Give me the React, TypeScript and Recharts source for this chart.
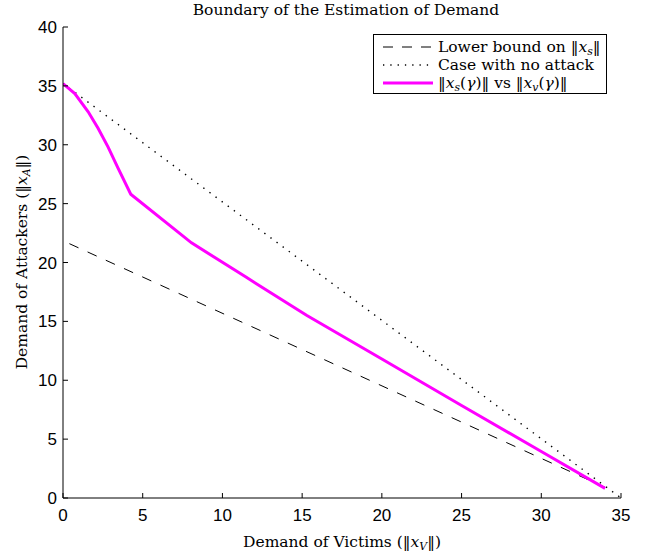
import { LineChart, Line, XAxis, YAxis } from "recharts";

const xTicks = [0, 5, 10, 15, 20, 25, 30, 35];
const yTicks = [0, 5, 10, 15, 20, 25, 30, 35, 40];

// lower bound on ||x_s|| (dashed)
const boundX = [0.4, 34];
const boundY = [21.6, 0.9];

// case with no attack (dotted)
const noAttackX = [0, 35];
const noAttackY = [35.2, 0];

// ||x_s(gamma)|| vs ||x_v(gamma)||
const curveX = [0, 0.74, 1.58, 2.2, 2.83, 3.46, 4.25, 8.06, 11.5, 15.3, 20, 25, 30, 34];
const curveY = [35.2, 34.35, 32.8, 31.4, 29.8, 28.0, 25.8, 21.67, 18.74, 15.5, 11.8, 7.85, 3.95, 0.82];

const zip = (xs: number[], ys: number[]) => xs.map((x, i) => ({ x, y: ys[i] }));

const serif = "'DejaVu Serif', serif";
const sans = "'Liberation Sans', Arial, sans-serif";
const textSize = 15.5;

const Norm = ({ v, sub, arg }: { v: string; sub: string; arg?: boolean }) => (
  <span>
    ‖<i>{v}</i>
    <i style={{ fontSize: "0.7em", position: "relative", top: "0.3em", lineHeight: 0 }}>{sub}</i>
    {arg ? (
      <>
        (<i>γ</i>)
      </>
    ) : null}
    ‖
  </span>
);

function LegendBox() {
  const row = { display: "flex", alignItems: "center", height: 18 } as const;
  return (
    <div
      style={{
        position: "absolute",
        left: 373,
        top: 34,
        width: 234,
        height: 60,
        boxSizing: "border-box",
        border: "1px solid #000",
        background: "#fff",
        padding: "3px 0 0 9px",
        fontFamily: serif,
        fontSize: textSize,
        lineHeight: "18px",
        color: "#000",
        whiteSpace: "nowrap",
      }}
    >
      <div style={row}>
        <svg width={50} height={18} style={{ flexShrink: 0 }}>
          <line x1={0} y1={9} x2={50} y2={9} stroke="#000" strokeDasharray="10 9" />
        </svg>
        <span style={{ marginLeft: 5 }}>
          Lower bound on <Norm v="x" sub="s" />
        </span>
      </div>
      <div style={row}>
        <svg width={50} height={18} style={{ flexShrink: 0 }}>
          <line x1={0} y1={9} x2={50} y2={9} stroke="#000" strokeWidth={1.3} strokeDasharray="1.3 6" />
        </svg>
        <span style={{ marginLeft: 5 }}>Case with no attack</span>
      </div>
      <div style={row}>
        <svg width={50} height={18} style={{ flexShrink: 0 }}>
          <line x1={0} y1={9} x2={50} y2={9} stroke="#ff00ff" strokeWidth={3} />
        </svg>
        <span style={{ marginLeft: 5 }}>
          <Norm v="x" sub="s" arg /> vs <Norm v="x" sub="v" arg />
        </span>
      </div>
    </div>
  );
}

export default function App() {
  return (
    <div style={{ position: "absolute", left: 0, top: 0, width: 650, height: 553, background: "#fff" }}>
      <LineChart width={650} height={553} margin={{ top: 27, right: 29, bottom: 25, left: 23 }}>
        <XAxis
          type="number"
          dataKey="x"
          domain={[0, 35]}
          ticks={xTicks}
          height={30}
          stroke="#000"
          tickSize={-5}
          tickMargin={16}
          tick={{ fill: "#000", fontFamily: sans, fontSize: 17 }}
          allowDataOverflow
        />
        <YAxis
          type="number"
          dataKey="y"
          domain={[0, 40]}
          ticks={yTicks}
          width={40}
          stroke="#000"
          tickSize={-5}
          tickMargin={11}
          tick={{ fill: "#000", fontFamily: sans, fontSize: 17 }}
          allowDataOverflow
        />
        <Line
          data={zip(boundX, boundY)}
          dataKey="y"
          stroke="#000"
          strokeWidth={1}
          strokeDasharray="10 10"
          dot={false}
          isAnimationActive={false}
        />
        <Line
          data={zip(noAttackX, noAttackY)}
          dataKey="y"
          stroke="#000"
          strokeWidth={1.4}
          strokeDasharray="1.4 6.2"
          dot={false}
          isAnimationActive={false}
        />
        <Line
          data={zip(curveX, curveY)}
          dataKey="y"
          stroke="#ff00ff"
          strokeWidth={3}
          dot={false}
          isAnimationActive={false}
        />
      </LineChart>
      <LegendBox />
      <div
        style={{
          position: "absolute",
          left: 67,
          width: 558,
          top: 0,
          lineHeight: "20px",
          textAlign: "center",
          fontFamily: serif,
          fontSize: textSize,
        }}
      >
        Boundary of the Estimation of Demand
      </div>
      <div
        style={{
          position: "absolute",
          left: 63,
          width: 558,
          top: 532,
          lineHeight: "20px",
          textAlign: "center",
          fontFamily: serif,
          fontSize: textSize,
        }}
      >
        Demand of Victims (<Norm v="x" sub="V" />)
      </div>
      <div
        style={{
          position: "absolute",
          left: 22,
          top: 262,
          lineHeight: "20px",
          transform: "translate(-50%, -50%) rotate(-90deg)",
          whiteSpace: "nowrap",
          fontFamily: serif,
          fontSize: textSize,
        }}
      >
        Demand of Attackers (<Norm v="x" sub="A" />)
      </div>
    </div>
  );
}
